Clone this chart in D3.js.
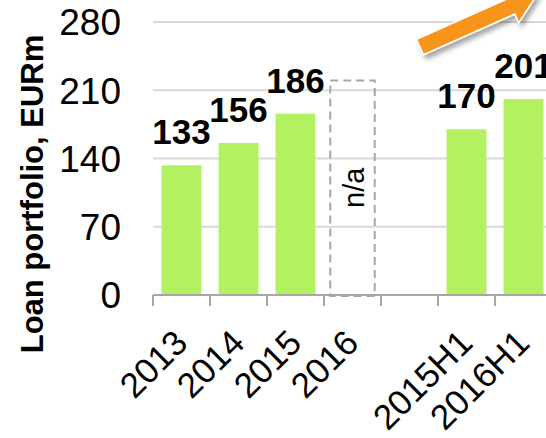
<!DOCTYPE html>
<html lang="en">
<head>
<meta charset="UTF-8" />
<title>Loan portfolio</title>
<style>
  body { margin: 0; background: #fff; }
  svg { display: block; font-family: "Liberation Sans", Arial, sans-serif; }
</style>
</head>
<body>
<div id="chart"></div>
<script src="https://d3js.org/d3.v7.min.js"></script>
<script>
  const width = 546, height = 438;

  // data
  const categories = ["2013", "2014", "2015", "2016", "gap", "2015H1", "2016H1"];
  const tickLabels = ["2013", "2014", "2015", "2016", "", "2015H1", "2016H1"];
  const values = [133, 156, 186, null, null, 170, 201];
  const naCategory = "2016";
  const naHeight = 220;
  const yTicks = [0, 70, 140, 210, 280];

  const svg = d3.select("#chart").append("svg")
    .attr("width", width)
    .attr("height", height);

  const x = d3.scaleBand().domain(categories).range([153, 552]);
  const y = d3.scaleLinear().domain([0, 280]).range([295, 22]);
  const bw = x.bandwidth();

  // gridlines
  svg.append("g")
    .selectAll("line")
    .data(yTicks.filter(d => d > 0))
    .join("line")
    .attr("x1", 153).attr("x2", width)
    .attr("y1", d => y(d)).attr("y2", d => y(d))
    .attr("stroke", "#d9d9d9")
    .attr("stroke-width", 2);

  // y tick labels
  svg.append("g")
    .selectAll("text")
    .data(yTicks)
    .join("text")
    .attr("x", 121)
    .attr("y", d => y(d))
    .attr("dy", "0.36em")
    .attr("text-anchor", "end")
    .attr("font-size", 37)
    .attr("fill", "#000")
    .text(d => d);

  // y title
  svg.append("text")
    .attr("transform", "translate(43,194) rotate(-90)")
    .attr("text-anchor", "middle")
    .attr("font-size", 31)
    .attr("font-weight", "bold")
    .text("Loan portfolio, EURm");

  const data = categories.map((c, i) => ({ cat: c, value: values[i], label: tickLabels[i] }));

  // bars
  svg.append("g")
    .selectAll("rect")
    .data(data.filter(d => d.value != null))
    .join("rect")
    .attr("x", d => x(d.cat) + bw * 0.15)
    .attr("width", bw * 0.7)
    .attr("y", d => y(d.value))
    .attr("height", d => y(0) - y(d.value))
    .attr("fill", "#b2f261");

  // n/a placeholder
  const naW = bw * 0.78;
  svg.append("rect")
    .attr("x", x(naCategory) + (bw - naW) / 2)
    .attr("width", naW)
    .attr("y", y(naHeight))
    .attr("height", y(0) - y(naHeight) + 1)
    .attr("fill", "none")
    .attr("stroke", "#a6a6a6")
    .attr("stroke-width", 2)
    .attr("stroke-dasharray", "8,5");

  svg.append("text")
    .attr("transform", `translate(${x(naCategory) + bw / 2 + 11},${(y(naHeight) + y(0)) / 2}) rotate(-90)`)
    .attr("text-anchor", "middle")
    .attr("font-size", 29)
    .text("n/a");

  // x axis
  svg.append("line")
    .attr("x1", 153).attr("x2", width)
    .attr("y1", y(0)).attr("y2", y(0))
    .attr("stroke", "#a6a6a6")
    .attr("stroke-width", 2);

  svg.append("g")
    .selectAll("line")
    .data(categories)
    .join("line")
    .attr("x1", d => x(d)).attr("x2", d => x(d))
    .attr("y1", y(0)).attr("y2", y(0) + 11)
    .attr("stroke", "#a6a6a6")
    .attr("stroke-width", 2);

  svg.append("g")
    .selectAll("text")
    .data(data.filter(d => d.label))
    .join("text")
    .attr("transform", d => `translate(${x(d.cat) + bw / 2 + 8},345) rotate(-45)`)
    .attr("text-anchor", "end")
    .attr("font-size", 35)
    .text(d => d.label);

  // value labels
  svg.append("g")
    .selectAll("text")
    .data(data.filter(d => d.value != null))
    .join("text")
    .attr("x", d => x(d.cat) + bw / 2)
    .attr("y", d => y(d.value) - 21)
    .attr("text-anchor", "middle")
    .attr("font-size", 35)
    .attr("font-weight", "bold")
    .text(d => d.value);

  // growth arrow
  const defs = svg.append("defs");
  defs.append("filter")
    .attr("id", "shadow")
    .attr("x", "-30%").attr("y", "-30%").attr("width", "160%").attr("height", "160%")
    .append("feDropShadow")
    .attr("dx", 3).attr("dy", 4)
    .attr("stdDeviation", 2.5)
    .attr("flood-color", "#000")
    .attr("flood-opacity", 0.35);

  const ang = -24 * Math.PI / 180;
  const u = [Math.cos(ang), Math.sin(ang)];
  const n = [-u[1], u[0]];
  const tail = [420, 47], shaftLen = 100, halfW = 8.5, headW = 18, headLen = 28;
  const pt = (base, a, b) => [base[0] + u[0] * a + n[0] * b, base[1] + u[1] * a + n[1] * b];
  const arrowPts = [
    pt(tail, 0, -halfW), pt(tail, shaftLen, -halfW), pt(tail, shaftLen, -headW),
    pt(tail, shaftLen + headLen, 0),
    pt(tail, shaftLen, headW), pt(tail, shaftLen, halfW), pt(tail, 0, halfW)
  ];
  svg.append("polygon")
    .attr("points", arrowPts.map(p => p.join(",")).join(" "))
    .attr("fill", "#f7941d")
    .attr("stroke", "#fff")
    .attr("stroke-width", 1.5)
    .attr("filter", "url(#shadow)");
</script>
</body>
</html>
